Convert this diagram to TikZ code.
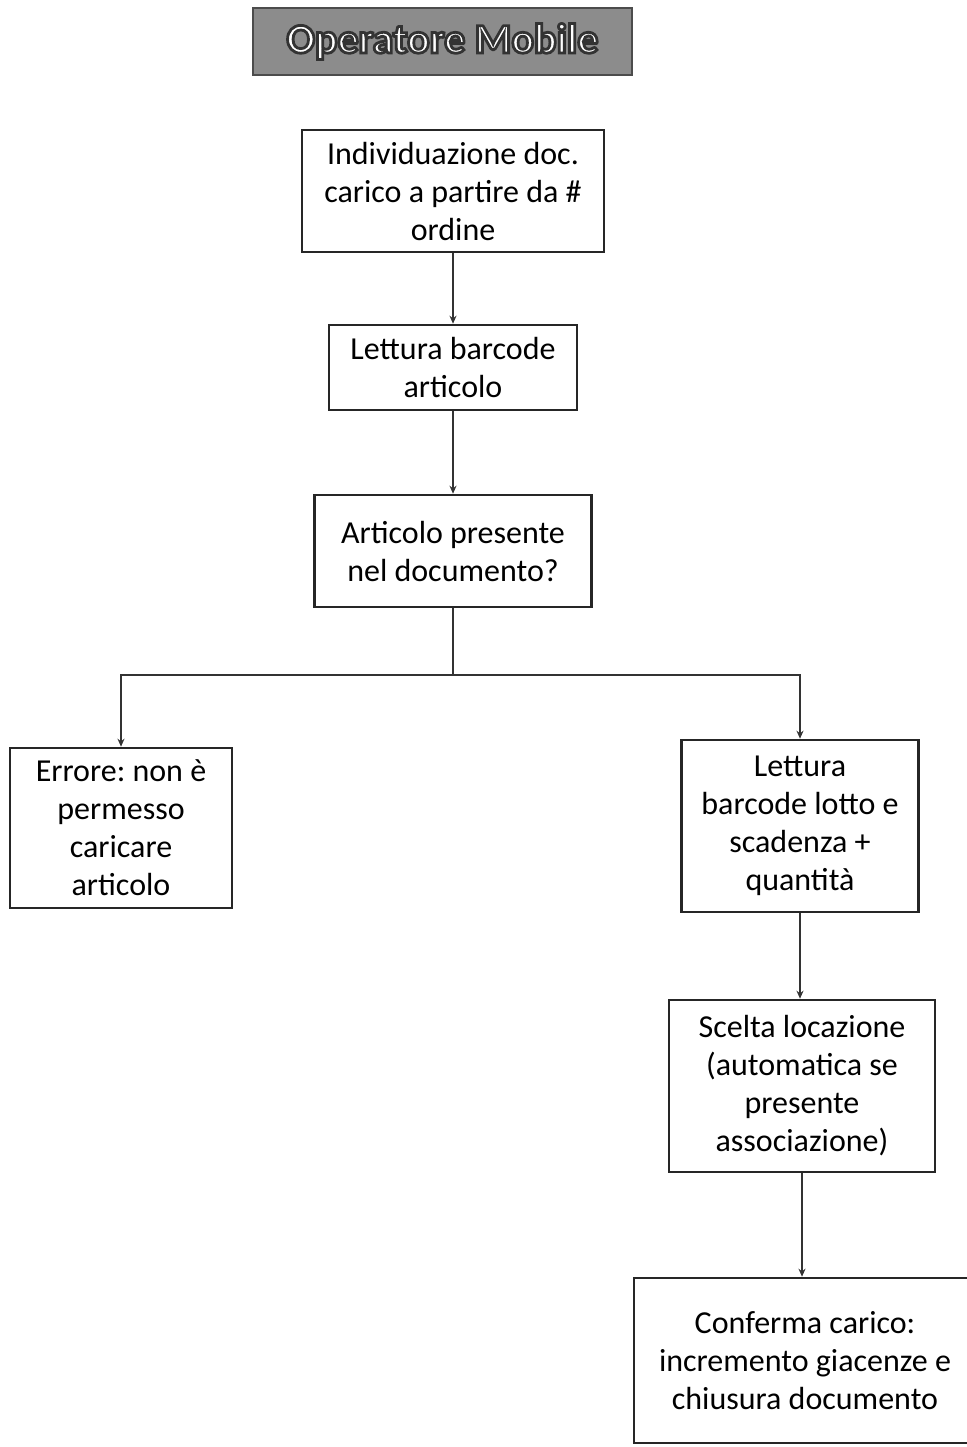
\documentclass[tikz,border=0pt]{standalone}
\usepackage{fontspec}
\setmainfont{Carlito}
\usetikzlibrary{arrows.meta}
\frenchspacing

\begin{document}
\begin{tikzpicture}[x=0.5pt, y=-0.5pt,
  box/.style={draw=black!85, line width=1.3pt, fill=white, align=center,
    inner sep=0pt, font=\fontsize{16}{19}\selectfont},
  titlebox/.style={draw=black!70, line width=0.8pt, fill=black!45,
    text=white, inner sep=0pt, font=\fontsize{21}{24}\selectfont\bfseries},
  arr/.style={draw=black!80, line width=0.7pt, -{Stealth[length=4pt,width=3.5pt]}}]
\useasboundingbox (0,0) rectangle (966,1447);

\node [titlebox, minimum width=189.5pt, minimum height=33.5pt] (title) at (442.5, 41.5)
  {\special{pdf:code 0.2 G 2 Tr 1.4 w}Operatore Mobile\special{pdf:code 0 Tr}};

\node [box, minimum width=151pt, minimum height=61pt] (ricerca) at (453, 191)
  {Individuazione doc.\\carico a partire da \#\\ordine};
\node [box, minimum width=124pt, minimum height=42.5pt] (lettura) at (453, 367.5)
  {Lettura barcode\\articolo};
\node [box, minimum width=138.5pt, minimum height=56pt] (presente) at (453, 551)
  {Articolo presente\\nel documento?};

\node [box, minimum width=111pt, minimum height=80pt] (errore) at (121, 828)
  {Errore: non è\\permesso\\caricare\\articolo};
\node [box, minimum width=118.5pt, minimum height=86pt] (lotto) at (800, 826)
  {Lettura\\barcode lotto e\\scadenza +\\quantità};
\node [box, minimum width=133pt, minimum height=86pt] (locazione) at (802, 1086)
  {Scelta locazione\\(automatica se\\presente\\associazione)};
\node [box, minimum width=171pt, minimum height=82.5pt] (conferma) at (805, 1360.5)
  {Conferma carico:\\incremento giacenze e\\chiusura documento};

\coordinate (split) at (453, 675);

\draw [arr] (ricerca.south) -- (lettura.north);
\draw [arr] (lettura.south) -- (presente.north);
\draw [draw=black!80, line width=0.7pt] (presente.south) -- (split);
\draw [arr] (split) -| (errore.north);
\draw [arr] (split) -| (lotto.north);
\draw [arr] (lotto.south) -- (lotto.south |- locazione.north);
\draw [arr] (locazione.south) -- (locazione.south |- conferma.north);

\end{tikzpicture}
\end{document}
